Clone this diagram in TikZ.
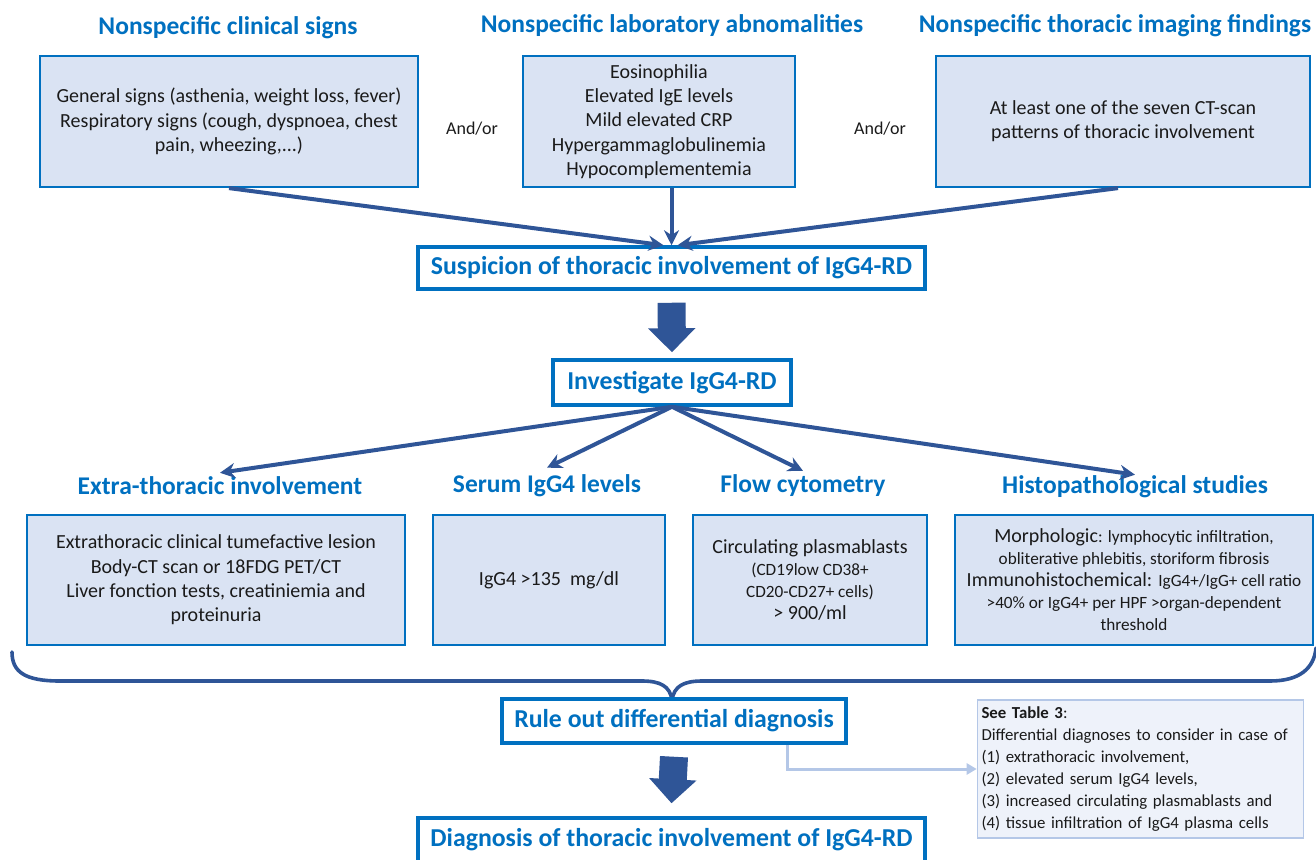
\documentclass[tikz,border=0pt]{standalone}
\usepackage{fontspec}
\setmainfont{Carlito}
\usetikzlibrary{arrows.meta}
\definecolor{headblue}{HTML}{0070C0}
\definecolor{boxfill}{HTML}{DAE3F3}
\definecolor{arrowblue}{HTML}{2F5597}
\definecolor{lightline}{HTML}{B4C7E7}
\definecolor{notefill}{HTML}{EEF2FA}
\definecolor{textdark}{HTML}{1A1A1A}
\newcommand{\myfs}[2]{\fontsize{#1}{#2}\selectfont}
\begin{document}
\begin{tikzpicture}[x=1pt,y=-1pt,
  heading/.style={text=headblue, font=\myfs{25.5}{30}\bfseries, inner sep=0pt},
  infobox/.style={draw=headblue, fill=boxfill, line width=2.2pt, align=center, text=textdark, font=\myfs{20}{24.3}, inner sep=4pt},
  titlebox/.style={draw=headblue, fill=white, line width=3.5pt, text=headblue, font=\myfs{25.8}{30}\bfseries, inner sep=2pt},
  andor/.style={text=textdark, font=\myfs{18}{21}},
  thinarrow/.style={draw=arrowblue, line width=4pt, -{Stealth[length=15pt,width=15pt]}},
  bigarrow/.style={draw=arrowblue, line width=28pt, -{Triangle[length=24pt,width=46pt]}},
  lightarrow/.style={draw=lightline, line width=3pt, -{Triangle[length=10pt,width=11pt]}},
  notebox/.style={draw=lightline, fill=notefill, line width=1.6pt, align=left, text=textdark, font=\myfs{16.8}{22}, inner sep=4pt, text width=318pt}
]
\useasboundingbox (0,0) rectangle (1316,859);

% top headings
\node[heading] (h1) at (228,28) {Nonspecific clinical signs};
\node[heading] (h2) at (672,26) {Nonspecific laboratory abnomalities};
\node[heading] (h3) at (1115,26) {Nonspecific thoracic imaging findings};

% top boxes
\node[infobox, minimum width=378pt, minimum height=131pt] (b1) at (229,121.5)
  {General signs (asthenia, weight loss, fever)\\Respiratory signs (cough, dyspnoea, chest\\pain, wheezing,...)};
\node[infobox, minimum width=272pt, minimum height=131pt] (b2) at (659,121.5)
  {Eosinophilia\\Elevated IgE levels\\Mild elevated CRP\\Hypergammaglobulinemia\\Hypocomplementemia};
\node[infobox, minimum width=374pt, minimum height=131pt] (b3) at (1123,121.5)
  {At least one of the seven CT-scan\\patterns of thoracic involvement};

\node[andor] (ao1) at (472,129) {And/or};
\node[andor] (ao2) at (880,129) {And/or};

% suspicion
\node[titlebox, minimum width=507pt, minimum height=42pt] (susp) at (671.5,268)
  {Suspicion of thoracic involvement of IgG4-RD};

\draw[thinarrow] (b1.south) -- ([xshift=-8pt]susp.north);
\draw[thinarrow] (b2.south -| susp.north) -- (susp.north);
\draw[thinarrow] ([xshift=-5pt]b3.south) -- ([xshift=6pt]susp.north);

% investigate
\node[titlebox, minimum width=238pt, minimum height=45pt] (inv) at (672,382.5)
  {Investigate IgG4-RD};
\draw[bigarrow] ([yshift=-12pt]susp.south) -- ([yshift=6pt]inv.north);

% second row headings
\node[heading] (h4) at (220,486) {Extra-thoracic involvement};
\node[heading] (h5) at (547,486) {Serum IgG4 levels};
\node[heading] (h6) at (803,486) {Flow cytometry};
\node[heading] (h7) at (1135,487) {Histopathological studies};

\draw[thinarrow] (inv.south) -- ([yshift=4pt]h4.north);
\draw[thinarrow] (inv.south) -- ([yshift=7pt]h5.north);
\draw[thinarrow] (inv.south) -- ([yshift=4pt]h6.north);
\draw[thinarrow] (inv.south) -- ([yshift=1pt]h7.north);

% second row boxes
\node[infobox, minimum width=378pt, minimum height=130pt] (c1) at (216,580)
  {Extrathoracic clinical tumefactive lesion\\Body-CT scan or 18FDG PET/CT\\Liver fonction tests, creatiniemia and\\proteinuria};
\node[infobox, minimum width=232pt, minimum height=130pt] (c2) at (549,580)
  {IgG4 >135~ mg/dl};
\node[infobox, minimum width=234pt, minimum height=130pt, font=\myfs{20}{22}] (c3) at (810,580)
  {Circulating plasmablasts\\{\myfs{17.2}{22}(CD19low CD38+}\\{\myfs{17.2}{22}CD20-CD27+ cells)}\\> 900/ml};
\node[infobox, minimum width=358pt, minimum height=130pt, font=\myfs{20}{22}, inner sep=2pt] (c4) at (1134,580)
  {Morphologic{\myfs{17.2}{22}: lymphocytic infiltration,}\\{\myfs{17.2}{22}obliterative phlebitis, storiform fibrosis}\\Immunohistochemical: {\myfs{17.2}{22}IgG4+/IgG+ cell ratio}\\{\myfs{17.2}{22}>40\% or IgG4+ per HPF >organ-dependent}\\{\myfs{17.2}{22}threshold}};

% brace
\coordinate (brL) at (12,652);
\coordinate (brM) at (672,700);
\coordinate (brR) at (1316,648);
\draw[arrowblue, line width=3.6pt, line cap=round]
  (brL) .. controls (12,672) and (25,681) .. (60,681) -- (642,681)
  .. controls (660,681) and (670,686) .. (brM)
  .. controls (674,686) and (684,681) .. (702,681) -- (1270,681)
  .. controls (1300,681) and (1314,668) .. (brR);

% rule out
\node[titlebox, minimum width=344pt, minimum height=44pt] (rule) at (674,721)
  {Rule out differential diagnosis};

% diagnosis
\node[titlebox, minimum width=507pt, minimum height=44pt] (diag) at (671.5,840)
  {Diagnosis of thoracic involvement of IgG4-RD};
\draw[bigarrow] ([yshift=-12pt]rule.south) -- ([yshift=13pt]diag.north);

% note
\node[notebox, minimum height=138pt] (note) at (1140.5,769)
  {\textbf{See Table 3}:\\Differential diagnoses to consider in case of\\(1) extrathoracic involvement,\\(2) elevated serum IgG4 levels,\\(3) increased circulating plasmablasts and\\(4) tissue infiltration of IgG4 plasma cells};

\draw[lightarrow] ([xshift=-60pt]rule.south east) |- (note.west);
\end{tikzpicture}
\end{document}
